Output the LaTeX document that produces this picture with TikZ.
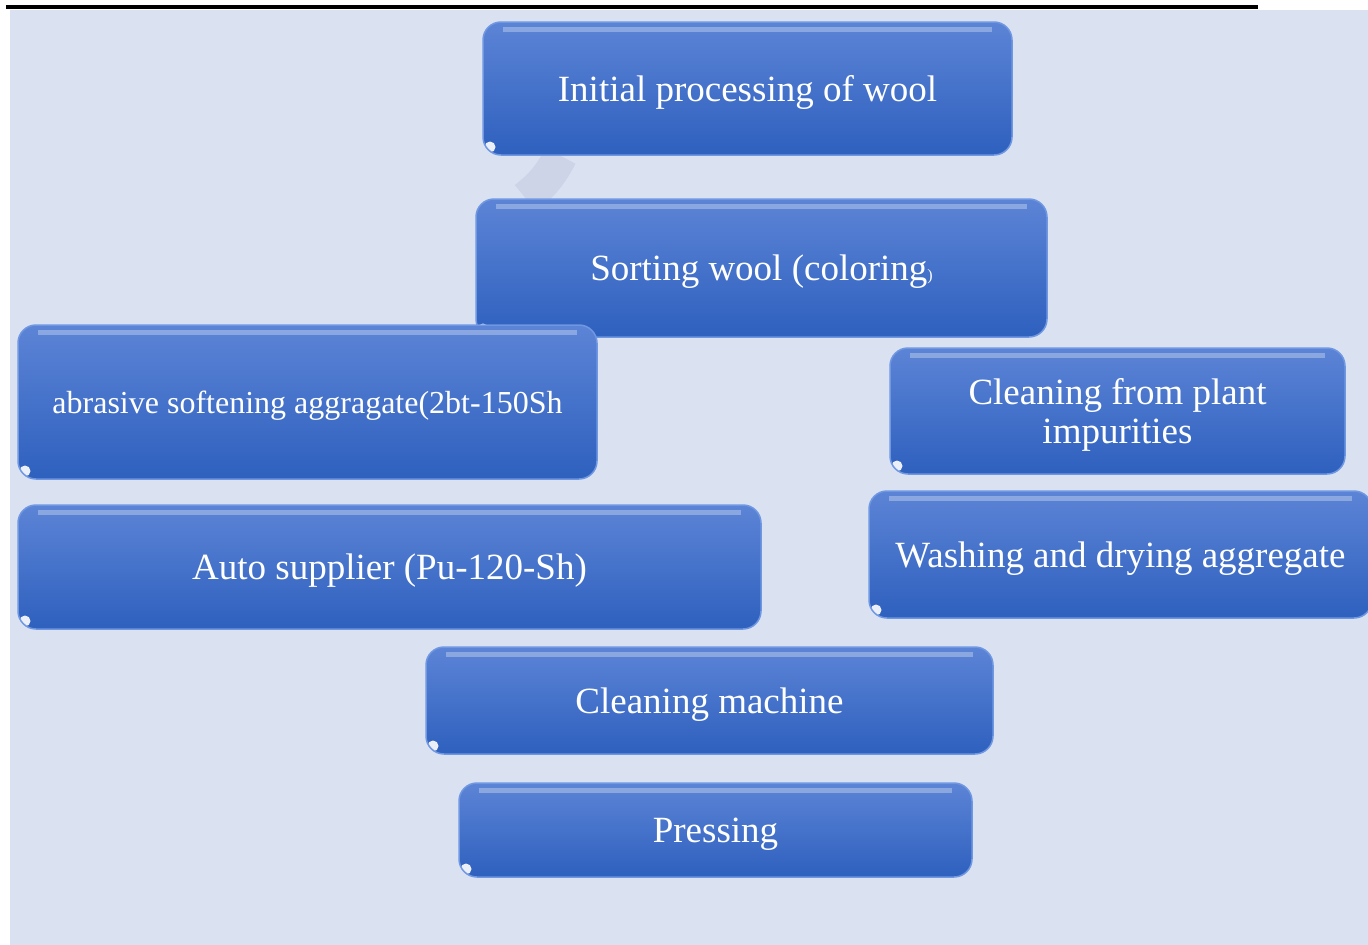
\documentclass[tikz,border=0pt]{standalone}
\usepackage{fontspec}
\setmainfont{Liberation Serif}
\usepackage{tikz}
\usetikzlibrary{positioning,calc,backgrounds}
\usepackage{xcolor}
\definecolor{bgblue}{HTML}{DAE2F2}
\definecolor{boxtop}{HTML}{5C84D6}
\definecolor{boxbot}{HTML}{2E60BE}
\definecolor{boxedge}{HTML}{6F97E2}
\definecolor{arcgrey}{HTML}{CDD3E8}

\begin{document}
\begin{tikzpicture}[x=1pt,y=-1pt,
	stepbox/.style={rectangle,rounded corners=18pt,top color=boxtop,bottom color=boxbot,
		draw=boxedge,line width=1.5pt,inner sep=0pt,text=white,align=center,text depth=0pt,
		font=\fontsize{37}{39}\selectfont,
		path picture={
			\fill[sharp corners,white,opacity=0.3] ([xshift=20pt,yshift=-5pt]path picture bounding box.north west) rectangle ([xshift=-20pt,yshift=-10pt]path picture bounding box.north east);
			\fill[white,opacity=0.9] ([xshift=7pt,yshift=8pt]path picture bounding box.south west) circle (5.5pt);
		}},
	flowarc/.style={line width=34pt,arcgrey,opacity=0.9}]
		\useasboundingbox (0,0) rectangle (1368,945);
		\node[stepbox,minimum width=529pt,minimum height=133pt] (n1) at (747.5,88.5) {Initial processing of wool};
		\node[stepbox,minimum width=571pt,minimum height=138pt] (n2) at (761.5,268) {Sorting wool (coloring{\fontsize{16}{16}\selectfont)}};
		\node[stepbox,minimum width=579pt,minimum height=154pt,font=\fontsize{32}{34}\selectfont] (n3) at (307.5,402) {abrasive softening aggragate(2bt-150Sh};
		\node[stepbox,minimum width=455pt,minimum height=126pt] (n4) at (1117.5,411) {Cleaning from plant\\impurities};
		\node[stepbox,minimum width=743pt,minimum height=124pt] (n5) at (389.5,567) {Auto supplier (Pu-120-Sh)};
		\node[stepbox,minimum width=503pt,minimum height=127pt] (n6) at (1120.5,554.5) {Washing and drying aggregate};
		\node[stepbox,minimum width=567pt,minimum height=107pt] (n7) at (709.5,700.5) {Cleaning machine};
		\node[stepbox,minimum width=513pt,minimum height=94pt] (n8) at (715.5,830) {Pressing};
		
		\begin{pgfonlayer}{background}
		\fill[bgblue] (10,10) rectangle (1368,945);
		\draw[line width=4pt] (6,7) -- (1258,7);
		\draw[flowarc] ([xshift=-187pt]n1.south) to[bend left=12] ([xshift=-236pt]n2.north);
		\end{pgfonlayer}
\end{tikzpicture}
\end{document}
